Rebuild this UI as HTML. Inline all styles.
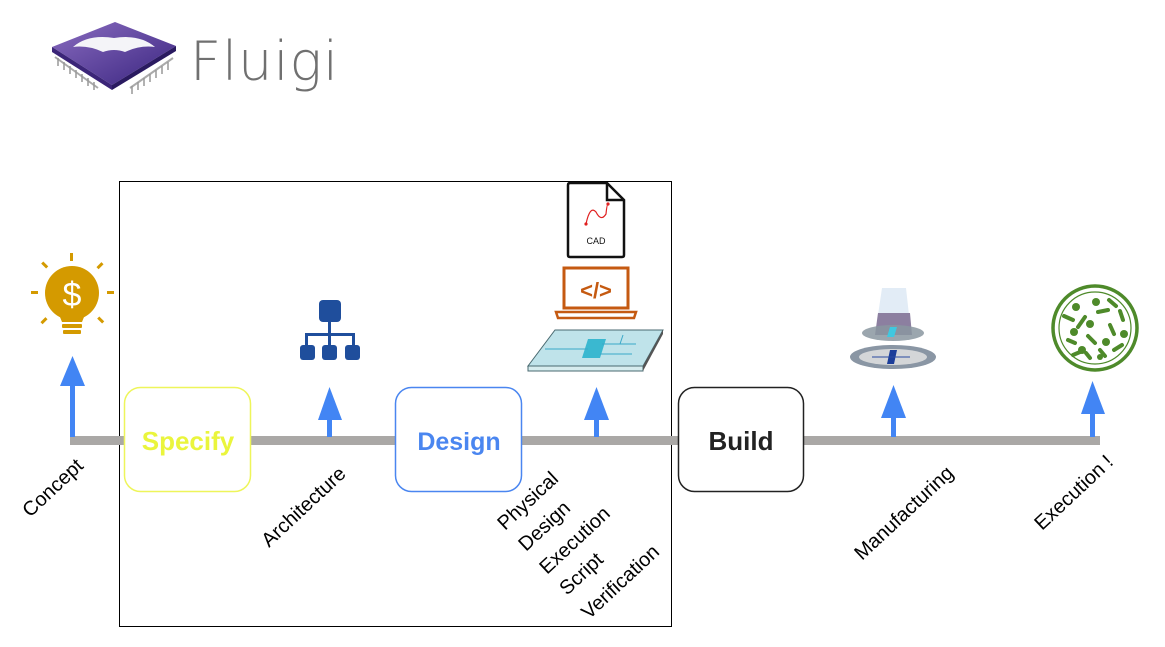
<!DOCTYPE html>
<html><head><meta charset="utf-8"><style>
html,body{margin:0;padding:0;background:#fff;}
svg{display:block;}
text{font-family:"Liberation Sans",sans-serif;}
</style></head><body>
<svg width="1165" height="647" viewBox="0 0 1165 647" xmlns="http://www.w3.org/2000/svg">
<defs>
<linearGradient id="chip" x1="0" y1="0" x2="1" y2="1"><stop offset="0" stop-color="#8a6cc0"/><stop offset="1" stop-color="#3a2580"/></linearGradient>
</defs>
<!-- logo -->
<g>
  <g stroke="#aaa" stroke-width="2">
    <line x1="55" y1="57" x2="98" y2="88"/>
    <line x1="130" y1="88" x2="173" y2="58"/>
  </g>
  <g stroke="#999" stroke-width="1.5">
    <line x1="58" y1="58" x2="58" y2="66"/><line x1="64" y1="62" x2="64" y2="70"/><line x1="70" y1="66" x2="70" y2="74"/><line x1="76" y1="70" x2="76" y2="78"/><line x1="82" y1="74" x2="82" y2="82"/><line x1="88" y1="78" x2="88" y2="86"/><line x1="94" y1="82" x2="94" y2="90"/>
    <line x1="132" y1="86" x2="132" y2="94"/><line x1="138" y1="82" x2="138" y2="90"/><line x1="144" y1="78" x2="144" y2="86"/><line x1="150" y1="74" x2="150" y2="82"/><line x1="156" y1="70" x2="156" y2="78"/><line x1="162" y1="66" x2="162" y2="74"/><line x1="168" y1="62" x2="168" y2="70"/>
  </g>
  <polygon points="52,47 115,22 176,46 112,85" fill="url(#chip)"/>
  <polygon points="52,47 112,85 112,90 52,52" fill="#3b2578"/>
  <polygon points="112,85 176,46 176,51 112,90" fill="#2a1a60"/>
  <path d="M73,47 Q88,34 114,38 Q140,34 155,47 Q140,45 125,52 Q114,48 103,52 Q88,45 73,47 Z" fill="#f4f4f8"/>
  <text x="190" y="80" font-size="54" fill="#707070" style="font-family:'DejaVu Sans','Liberation Sans',sans-serif;font-weight:200" textLength="148">Fluigi</text>
</g>
<!-- big box -->
<rect x="119.5" y="181.5" width="552" height="445" fill="none" stroke="#000" stroke-width="1"/>
<!-- timeline -->
<rect x="70" y="436" width="1030" height="9" fill="#aaa8a6"/>
<!-- arrows -->
<g fill="#4285f4">
  <rect x="70" y="380" width="5" height="57"/><polygon points="60,386 72.5,356 85,386"/>
  <rect x="327" y="410" width="5" height="27"/><polygon points="318,420 329.5,387 342,420"/>
  <rect x="594" y="410" width="5" height="27"/><polygon points="584,420 596.5,387 609,420"/>
  <rect x="891" y="410" width="5" height="27"/><polygon points="881,418 893.5,385 906,418"/>
  <rect x="1090" y="410" width="5" height="27"/><polygon points="1081,414 1092.5,381 1105,414"/>
</g>
<!-- boxes -->
<rect x="124.5" y="387.5" width="126" height="104" rx="16" fill="#fff" stroke="#eef55a" stroke-width="1.5"/>
<text x="188" y="450" font-size="26" font-weight="bold" fill="#eaf53c" text-anchor="middle">Specify</text>
<rect x="395.5" y="387.5" width="126" height="104" rx="16" fill="#fff" stroke="#4a86f0" stroke-width="1.5"/>
<text x="459" y="450" font-size="25" font-weight="bold" fill="#4a86f0" text-anchor="middle">Design</text>
<rect x="678.5" y="387.5" width="125" height="104" rx="16" fill="#fff" stroke="#222" stroke-width="1.5"/>
<text x="741" y="450" font-size="26" font-weight="bold" fill="#222" text-anchor="middle">Build</text>
<!-- labels -->
<g font-size="20" fill="#000">
  <text transform="translate(30,518) rotate(-43)">Concept</text>
  <text transform="translate(269,548) rotate(-43)">Architecture</text>
  <text transform="translate(862,561) rotate(-43)">Manufacturing</text>
  <text transform="translate(1042,531) rotate(-43)">Execution !</text>
  <text transform="translate(505,531) rotate(-43)">Physical</text>
  <text transform="translate(526,552) rotate(-43)">Design</text>
  <text transform="translate(547,575) rotate(-43)">Execution</text>
  <text transform="translate(567,596) rotate(-43)">Script</text>
  <text transform="translate(589,620) rotate(-43)">Verification</text>
</g>
<!-- bulb -->
<g fill="#d49a00">
  <circle cx="72" cy="293" r="27"/>
  <path d="M58,312 L86,312 L82,322 L62,322 Z"/>
  <rect x="62" y="324" width="20" height="4" rx="1"/>
  <rect x="63" y="330" width="18" height="4" rx="1"/>
  <rect x="70" y="253" width="3" height="8"/>
  <rect x="31" y="291" width="7" height="3"/><rect x="107" y="291" width="7" height="3"/>
  <rect x="43" y="262" width="3" height="7" transform="rotate(-45 44 265)"/>
  <rect x="99" y="262" width="3" height="7" transform="rotate(45 100 265)"/>
  <rect x="43" y="317" width="3" height="7" transform="rotate(45 44 320)"/>
  <rect x="99" y="317" width="3" height="7" transform="rotate(-45 100 320)"/>
</g>
<text x="72" y="306" font-size="34" fill="#fff" text-anchor="middle">$</text>
<!-- hierarchy -->
<g fill="#1f4e9c">
  <rect x="319" y="300" width="22" height="22" rx="4"/>
  <rect x="328" y="321" width="3" height="14"/>
  <rect x="305" y="333" width="50" height="3"/>
  <rect x="305" y="333" width="3" height="14"/><rect x="328" y="333" width="3" height="14"/><rect x="352" y="333" width="3" height="14"/>
  <rect x="300" y="345" width="15" height="15" rx="3"/><rect x="322" y="345" width="15" height="15" rx="3"/><rect x="345" y="345" width="15" height="15" rx="3"/>
</g>
<!-- CAD file -->
<path d="M570,183 L607,183 L624,200 L624,255 Q624,257 622,257 L570,257 Q568,257 568,255 L568,185 Q568,183 570,183 Z" fill="#fff" stroke="#111" stroke-width="2.5"/>
<path d="M607,183 L607,200 L624,200" fill="none" stroke="#111" stroke-width="2.5"/>
<path d="M586,224 Q590,205 596,212 Q601,222 606,214 Q607,204 608,204" fill="none" stroke="#e02020" stroke-width="1.2"/>
<circle cx="586" cy="224" r="1.6" fill="#e02020"/><circle cx="608" cy="204" r="1.6" fill="#e02020"/>
<text x="596" y="244" font-size="9" fill="#111" text-anchor="middle">CAD</text>
<!-- laptop -->
<rect x="564" y="268" width="64" height="40" fill="#fff" stroke="#c55a11" stroke-width="3"/>
<path d="M556,312 L636,312 L634,318 L558,318 Z" fill="#fff" stroke="#c55a11" stroke-width="2.5"/>
<text x="596" y="298" font-size="22" fill="#c55a11" text-anchor="middle" font-weight="bold">&lt;/&gt;</text>
<!-- chip plate -->
<polygon points="555,330 663,330 643,366 528,366" fill="#bfe3ea" stroke="#4a6a70" stroke-width="1"/>
<polygon points="528,366 643,366 643,371 528,371" fill="#d6ecee" stroke="#4a6a70" stroke-width="1"/>
<polygon points="643,366 663,330 663,334 643,371" fill="#555"/>
<polygon points="588,339 606,339 600,358 582,358" fill="#3ab8d0"/>
<g stroke="#3aa8c8" stroke-width="1"><line x1="545" y1="349" x2="588" y2="349"/><line x1="602" y1="344" x2="636" y2="344"/><line x1="600" y1="354" x2="632" y2="354"/><line x1="620" y1="344" x2="623" y2="335"/></g>
<!-- manufacturing -->
<g>
  <polygon points="882,288 906,288 909,315 878,315" fill="#e2ecf6"/>
  <polygon points="878,313 910,313 912,335 875,335" fill="#8c7fa0"/>
  <ellipse cx="893" cy="333" rx="31" ry="8" fill="#8a96a0" opacity="0.85"/>
  <ellipse cx="893" cy="357" rx="43" ry="12" fill="#8a96a4"/>
  <ellipse cx="893" cy="357" rx="34" ry="8" fill="#d4d6d8"/>
  <polygon points="890,350 897,350 894,364 887,364" fill="#1c3e9a"/>
  <polygon points="890,327 897,327 894,337 887,337" fill="#40c8e0"/>
  <line x1="872" y1="357" x2="910" y2="357" stroke="#2a4aa0" stroke-width="1"/>
</g>
<!-- petri dish -->
<g>
  <circle cx="1095" cy="328" r="42" fill="#fff" stroke="#4e8a2a" stroke-width="3.5"/>
  <circle cx="1095" cy="328" r="36" fill="none" stroke="#4e8a2a" stroke-width="1.2"/>
  <g stroke="#4e8a2a" stroke-width="4" stroke-linecap="round">
    <line x1="1064" y1="316" x2="1073" y2="320"/><line x1="1085" y1="317" x2="1078" y2="327"/><line x1="1098" y1="312" x2="1108" y2="310"/>
    <line x1="1109" y1="300" x2="1116" y2="306"/><line x1="1120" y1="311" x2="1123" y2="320"/><line x1="1110" y1="325" x2="1114" y2="334"/>
    <line x1="1068" y1="340" x2="1075" y2="343"/><line x1="1088" y1="336" x2="1095" y2="343"/><line x1="1122" y1="345" x2="1114" y2="350"/>
    <line x1="1086" y1="353" x2="1090" y2="358"/><line x1="1073" y1="355" x2="1080" y2="352"/><line x1="1100" y1="350" x2="1105" y2="356"/>
  </g>
  <g fill="#4e8a2a">
    <circle cx="1076" cy="307" r="4"/><circle cx="1096" cy="302" r="4"/><circle cx="1090" cy="324" r="4"/><circle cx="1124" cy="334" r="4"/>
    <circle cx="1074" cy="332" r="4"/><circle cx="1106" cy="342" r="4"/><circle cx="1082" cy="350" r="4"/><circle cx="1100" cy="357" r="3"/>
  </g>
</g>
</svg>
</body></html>
